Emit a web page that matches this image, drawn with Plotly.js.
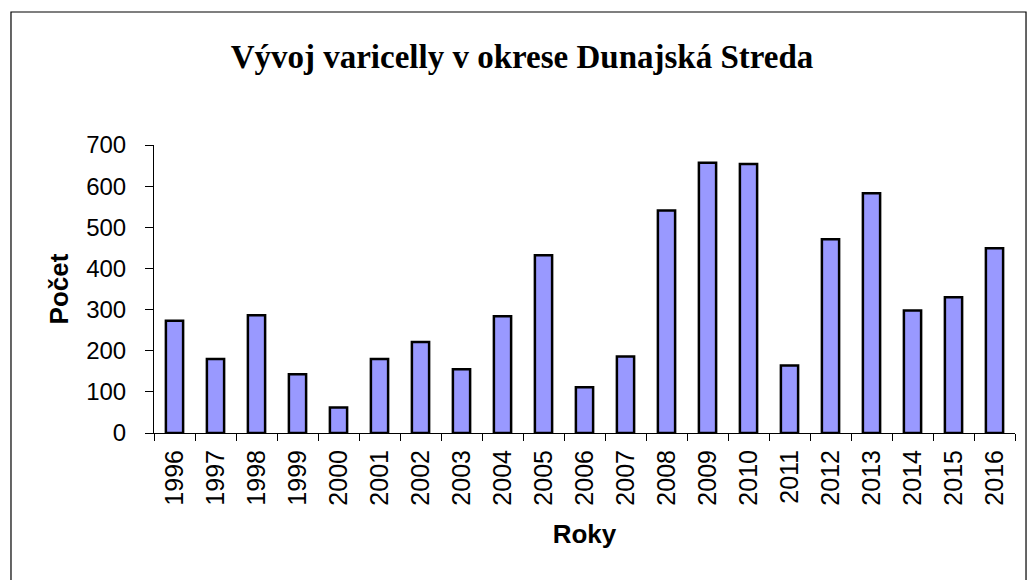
<!DOCTYPE html>
<html>
<head>
<meta charset="utf-8">
<script src="https://cdn.plot.ly/plotly-3.0.1.min.js"></script>
<style>html,body{margin:0;padding:0;background:#fff;}#chart{width:1031px;height:580px;}</style>
</head>
<body>
<div id="chart"></div>
<script>
const years = ["1996","1997","1998","1999","2000","2001","2002","2003","2004","2005","2006","2007","2008","2009","2010","2011","2012","2013","2014","2015","2016"];
const counts = [273,180,286,143,62,180,221,155,284,432,111,186,541,657,654,164,471,583,298,330,449];
const chartTitle = "Vývoj varicelly v okrese Dunajská Streda";
const xTitle = "Roky";
const yTitle = "Počet";

const trace = {
  type: "bar",
  x: years,
  y: counts,
  marker: {color: "#9999FF", line: {color: "#000000", width: 2.5}},
  hoverinfo: "x+y"
};

const layout = {
  width: 1031,
  height: 580,
  paper_bgcolor: "#ffffff",
  plot_bgcolor: "#ffffff",
  margin: {l: 154, r: 16, t: 145, b: 147, pad: 0},
  showlegend: false,
  bargap: 0.58,
  title: {
    text: "<b>" + chartTitle + "</b>",
    font: {family: "Liberation Serif, Times New Roman, serif", size: 33, color: "#000"},
    x: 0.4274, xanchor: "center", xref: "paper",
    y: 0.903, yanchor: "middle"
  },
  xaxis: {
    type: "category",
    showline: true, linecolor: "#000", linewidth: 1,
    ticks: "outside", tickson: "boundaries", ticklen: 7, tickcolor: "#000", tickwidth: 1,
    tickangle: -90,
    tickfont: {family: "Liberation Sans, Arial, sans-serif", size: 25, color: "#000"},
    ticklabelstandoff: 6,
    showgrid: false, zeroline: false,
    title: {text: "<b>" + xTitle + "</b>", font: {family: "Liberation Sans, Arial, sans-serif", size: 26, color: "#000"}, standoff: 20},
    automargin: false
  },
  yaxis: {
    range: [0, 700], dtick: 100, tick0: 0,
    showline: true, linecolor: "#000", linewidth: 1,
    ticks: "outside", ticklen: 8, tickcolor: "#000", tickwidth: 1,
    tickfont: {family: "Liberation Sans, Arial, sans-serif", size: 24, color: "#000"},
    ticklabelstandoff: 14,
    showgrid: false, zeroline: false,
    title: {text: "<b>" + yTitle + "</b>", font: {family: "Liberation Sans, Arial, sans-serif", size: 26, color: "#000"}, standoff: 10},
    automargin: false
  },
  shapes: [{
    type: "rect", xref: "paper", yref: "paper",
    x0: -0.1661, x1: 1.0128, y0: -0.6, y1: 1.4618,
    line: {color: "#000", width: 1.2}, fillcolor: "rgba(0,0,0,0)", layer: "below"
  }]
};

Plotly.newPlot("chart", [trace], layout, {displayModeBar: false, staticPlot: true});
</script>
</body>
</html>
